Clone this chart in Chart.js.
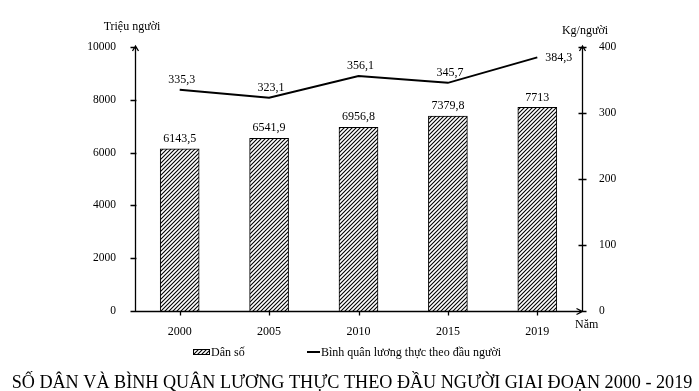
<!DOCTYPE html>
<html>
<head>
<meta charset="utf-8">
<script src="https://cdn.jsdelivr.net/npm/chart.js@4/dist/chart.umd.min.js"></script>
<style>
  body { margin: 0; background: #fff; }
  #wrap { width: 699px; height: 391px; }
</style>
</head>
<body>
<div id="wrap"><canvas id="chart" width="699" height="391"></canvas></div>
<script>
// --- data ---
const years = ['2000', '2005', '2010', '2015', '2019'];
const populationValues = [6143.5, 6541.9, 6956.8, 7379.8, 7713];   // Triệu người
const foodPerCapita = [335.3, 323.1, 356.1, 345.7, 384.3];          // Kg/người
const leftTicks = [0, 2000, 4000, 6000, 8000, 10000];
const rightTicks = [0, 100, 200, 300, 400];

const SERIF = '"Liberation Serif", "Times New Roman", serif';
Chart.defaults.font.family = SERIF;
Chart.defaults.color = '#000';

const fmt = v => String(v).replace('.', ',');

// diagonal hatch used by the bars and the legend box
function makeHatch() {
  const c = document.createElement('canvas');
  c.width = 4; c.height = 4;
  const g = c.getContext('2d');
  g.fillStyle = '#fff';
  g.fillRect(0, 0, 4, 4);
  g.strokeStyle = '#000';
  g.lineWidth = 1.1;
  g.beginPath();
  g.moveTo(-1, 5); g.lineTo(5, -1);
  g.moveTo(-1, 1); g.lineTo(1, -1);
  g.moveTo(3, 5); g.lineTo(5, 3);
  g.stroke();
  return g.createPattern(c, 'repeat');
}
const hatch = makeHatch();

// axes with arrows, tick marks, value labels and all the loose text
const decorPlugin = {
  id: 'decor',
  afterDraw(chart) {
    const { ctx, chartArea: a } = chart;
    const L = Math.round(a.left) + 0.5;
    const R = Math.round(a.right) + 0.5;
    const B = Math.round(a.bottom) + 0.5;
    const T = Math.round(a.top) - 1;
    const yL = chart.scales.y, yR = chart.scales.y1;

    ctx.save();
    ctx.strokeStyle = '#000';
    ctx.lineWidth = 1.3;
    ctx.beginPath();
    // left axis + arrow
    ctx.moveTo(L, B); ctx.lineTo(L, T);
    ctx.moveTo(L - 3, T + 5); ctx.lineTo(L, T); ctx.lineTo(L + 3, T + 5);
    // right axis + arrow
    ctx.moveTo(R, B); ctx.lineTo(R, T);
    ctx.moveTo(R - 3, T + 5); ctx.lineTo(R, T); ctx.lineTo(R + 3, T + 5);
    // x axis + arrow
    ctx.moveTo(L - 4, B); ctx.lineTo(R, B);
    ctx.moveTo(R - 6, B - 3); ctx.lineTo(R, B); ctx.lineTo(R - 6, B + 3);
    // ticks
    leftTicks.forEach(v => {
      const y = Math.round(yL.getPixelForValue(v)) + 0.5;
      ctx.moveTo(L - 5, y); ctx.lineTo(L + 1, y);
    });
    rightTicks.forEach(v => {
      const y = Math.round(yR.getPixelForValue(v)) + 0.5;
      ctx.moveTo(R - 4, y); ctx.lineTo(R + 4, y);
    });
    chart.getDatasetMeta(0).data.forEach(bar => {
      const x = Math.round(bar.x) + 0.5;
      ctx.moveTo(x, B); ctx.lineTo(x, B + 4);
    });
    ctx.stroke();

    // value labels
    ctx.fillStyle = '#000';
    ctx.font = '12px ' + SERIF;
    ctx.textAlign = 'center';
    ctx.textBaseline = 'middle';
    chart.getDatasetMeta(0).data.forEach((bar, i) => {
      ctx.fillText(fmt(populationValues[i]), bar.x, bar.y - 10);
    });
    const pts = chart.getDatasetMeta(1).data;
    pts.forEach((p, i) => {
      if (i === pts.length - 1) {
        ctx.textAlign = 'left';
        ctx.fillText(fmt(foodPerCapita[i]), p.x + 8, p.y);
        ctx.textAlign = 'center';
      } else {
        ctx.fillText(fmt(foodPerCapita[i]), p.x + 2, p.y - 10);
      }
    });

    // axis titles
    ctx.textBaseline = 'alphabetic';
    ctx.font = '12px ' + SERIF;
    ctx.textAlign = 'center';
    ctx.fillText('Triệu người', 132, 30);
    ctx.fillText('Kg/người', 585, 34);
    ctx.textAlign = 'left';
    ctx.fillText('Năm', 575, 328);

    // legend
    ctx.fillStyle = hatch;
    ctx.fillRect(193, 349, 17, 6);
    ctx.lineWidth = 1;
    ctx.strokeRect(193.5, 349.5, 16, 5);
    ctx.beginPath();
    ctx.lineWidth = 2;
    ctx.moveTo(307, 352); ctx.lineTo(320, 352);
    ctx.stroke();
    ctx.fillStyle = '#000';
    ctx.fillText('Dân số', 211, 356);
    ctx.fillText('Bình quân lương thực theo đầu người', 321, 356);

    // title under the chart, sized to span the width like the reference
    const title = 'SỐ DÂN VÀ BÌNH QUÂN LƯƠNG THỰC THEO ĐẦU NGƯỜI GIAI ĐOẠN 2000 - 2019';
    ctx.font = '17px ' + SERIF;
    const w = ctx.measureText(title).width;
    const size = Math.min(20, 17 * 681 / w);
    ctx.font = size.toFixed(2) + 'px ' + SERIF;
    ctx.textAlign = 'center';
    ctx.fillText(title, 352, 388);
    ctx.restore();
  }
};

new Chart(document.getElementById('chart'), {
  data: {
    labels: years,
    datasets: [
      {
        type: 'bar',
        label: 'Dân số',
        data: populationValues,
        yAxisID: 'y',
        backgroundColor: hatch,
        borderColor: '#000',
        borderWidth: 1,
        barThickness: 39,
        order: 2
      },
      {
        type: 'line',
        label: 'Bình quân lương thực theo đầu người',
        data: foodPerCapita,
        yAxisID: 'y1',
        borderColor: '#000',
        borderWidth: 2,
        pointRadius: 0,
        tension: 0,
        fill: false,
        order: 1
      }
    ]
  },
  options: {
    responsive: false,
    animation: false,
    layout: { padding: { top: 47, bottom: 50, left: 0, right: 0 } },
    plugins: {
      legend: { display: false },
      tooltip: { enabled: false }
    },
    scales: {
      x: {
        offset: true,
        grid: { display: false },
        border: { display: false },
        ticks: { font: { size: 12 }, padding: 6, color: '#000' },
        afterFit(s) { s.height = 30; }
      },
      y: {
        position: 'left',
        min: 0, max: 10000,
        grid: { display: false },
        border: { display: false },
        afterBuildTicks(s) { s.ticks = leftTicks.map(v => ({ value: v })); },
        ticks: { font: { size: 11.5 }, padding: 11, color: '#000', callback: v => String(v) },
        afterFit(s) { s.width = 135; }
      },
      y1: {
        position: 'right',
        min: 0, max: 400,
        grid: { display: false },
        border: { display: false },
        afterBuildTicks(s) { s.ticks = rightTicks.map(v => ({ value: v })); },
        ticks: { font: { size: 11.5 }, padding: 9, color: '#000', callback: v => String(v) },
        afterFit(s) { s.width = 117; }
      }
    }
  },
  plugins: [decorPlugin]
});
</script>
</body>
</html>
